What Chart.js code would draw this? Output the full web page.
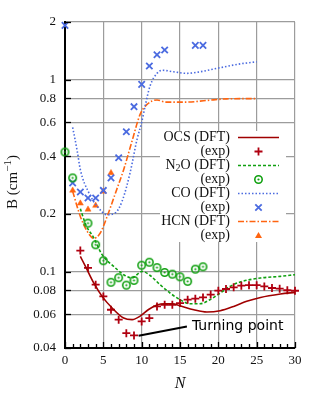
<!DOCTYPE html>
<html><head><meta charset="utf-8">
<script src="https://cdn.jsdelivr.net/npm/chart.js@4/dist/chart.umd.min.js"></script>
<style>html,body{margin:0;padding:0;background:#fff}canvas{display:block}</style>
</head><body>
<canvas id="c" width="320" height="400"></canvas>
<script>
// ---- data ----
const xTicks=[0,5,10,15,20,25,30];
const yTicks=[0.04,0.06,0.08,0.1,0.2,0.4,0.6,0.8,1,2];
const yTickLabels=['0.04','0.06','0.08','0.1','0.2','0.4','0.6','0.8','1','2'];

const ocsExpN=[2,3,4,5,6,7,8,9,10,11,12,13,14,15,16,17,18,19,20,21,22,23,24,25,26,27,28,29,30];
const ocsExpB=[0.1287,0.1045,0.0855,0.0743,0.0633,0.0562,0.0478,0.0465,0.055,0.0573,0.0659,0.0672,0.0672,0.0686,0.0714,0.0723,0.0734,0.0759,0.0796,0.0812,0.0828,0.0845,0.085,0.085,0.0837,0.0822,0.0815,0.080,0.0795];
const ocsDftN=[2,2.67,3.75,4.84,6.15,7.65,8.75,9.8,10.9,12,13,14,15,16.8,18.5,20.25,22,23.7,25.5,28.1,30];
const ocsDftB=[0.120,0.1065,0.0873,0.0743,0.0646,0.0573,0.0562,0.0586,0.0635,0.0670,0.0680,0.0680,0.0664,0.0633,0.0616,0.0626,0.0659,0.0700,0.0734,0.0765,0.078];

const n2oExpN=[0,1,3,4,5,6,7,8,9,10,11,12,13,14,15,16,17,18];
const n2oExpB=[0.42,0.308,0.179,0.138,0.114,0.088,0.093,0.085,0.090,0.108,0.112,0.105,0.099,0.097,0.094,0.089,0.103,0.106];
const n2oDftN=[2,2.7,3.75,4.84,6.35,7.66,8.75,10.05,11.1,12.4,13.7,15,16.3,17.6,18.9,20.25,21.5,22.85,25.5,28.1,30];
const n2oDftB=[0.213,0.176,0.150,0.1226,0.1065,0.0964,0.0927,0.1003,0.0955,0.0855,0.0774,0.0714,0.068,0.068,0.0714,0.0774,0.0837,0.0883,0.0927,0.0945,0.0964];

const coExpN=[0,1,2,3,4,5,6,7,8,9,10,11,12,13,17,18];
const coExpB=[1.92,0.29,0.26,0.242,0.242,0.265,0.308,0.392,0.536,0.724,0.946,1.18,1.35,1.43,1.51,1.51];
const coDftN=[1,1.6,2,3.1,4.2,5.5,6.6,7.45,8.5,9.4,10,10.5,11.1,12,12.7,14.2,15.9,17.6,20.25,22.85,25];
const coDftB=[0.565,0.424,0.34,0.258,0.219,0.198,0.203,0.233,0.329,0.49,0.6,0.744,0.93,1.08,1.12,1.10,1.08,1.10,1.156,1.21,1.24];

const hcnExpN=[1,2,3,4,5,6];
const hcnExpB=[0.265,0.227,0.211,0.221,0.262,0.327];
const hcnDftN=[1,2,2.9,3.75,4.6,5.5,6.6,7.65,8.75,9.8,10.7,12,13.1,14.2,15.9,18.5,21.1,25];
const hcnDftB=[0.262,0.194,0.162,0.149,0.159,0.194,0.258,0.340,0.48,0.66,0.744,0.785,0.765,0.765,0.765,0.78,0.795,0.798];

const turnN=[9.6,15.9];
const turnB=[0.0463,0.0518];
const turnLabel='Turning point';

const legendLabels=['OCS (DFT)','(exp)','N2O (DFT)','(exp)','CO (DFT)','(exp)','HCN (DFT)','(exp)'];

// ---- styles ----
const RED='#a00000', RED2='#b00010', GREEN='#10a010', BLUE='#4b6be0', ORANGE='#ff6410';
const SERIF='"Liberation Serif","Times New Roman",serif';

function pts(xs,ys){return xs.map((x,i)=>({x:x,y:ys[i]}));}

function makeCircleImg(){
  const c=document.createElement('canvas'); c.width=11; c.height=11;
  const g=c.getContext('2d');
  g.strokeStyle=GREEN; g.lineWidth=1.6;
  g.beginPath(); g.arc(5.5,5.5,3.7,0,Math.PI*2); g.stroke();
  g.fillStyle=GREEN; g.beginPath(); g.arc(5.5,5.5,1.1,0,Math.PI*2); g.fill();
  return c;
}
const circImg=makeCircleImg();

const lineDs=(lbl,xs,ys,col,dash)=>({label:lbl,data:pts(xs,ys),showLine:true,borderColor:col,borderWidth:1.6,
  borderDash:dash,pointRadius:0,pointHoverRadius:0,cubicInterpolationMode:'monotone',fill:false,clip:false});

const datasets=[
  lineDs('OCS (DFT)',ocsDftN,ocsDftB,RED,[]),
  {label:'OCS (exp)',data:pts(ocsExpN,ocsExpB),showLine:false,pointStyle:'cross',pointRadius:4,pointBorderWidth:1.8,pointBorderColor:RED2,clip:false},
  lineDs('N2O (DFT)',n2oDftN,n2oDftB,GREEN,[3,2]),
  {label:'N2O (exp)',data:pts(n2oExpN,n2oExpB),showLine:false,pointStyle:circImg,pointRadius:5,clip:false},
  lineDs('CO (DFT)',coDftN,coDftB,BLUE,[1.5,2]),
  {label:'CO (exp)',data:pts(coExpN,coExpB),showLine:false,pointStyle:'crossRot',pointRadius:4.5,pointBorderWidth:1.8,pointBorderColor:BLUE,clip:false},
  lineDs('HCN (DFT)',hcnDftN,hcnDftB,ORANGE,[6,2,1.5,2]),
  {label:'HCN (exp)',data:pts(hcnExpN,hcnExpB),showLine:false,pointStyle:'triangle',pointRadius:3.5,pointBorderWidth:0.5,pointBorderColor:ORANGE,pointBackgroundColor:ORANGE,clip:false},
  {label:'turn',data:pts(turnN,turnB),showLine:true,borderColor:'#000',borderWidth:2,pointRadius:0,clip:false}
];

function drawSample(ctx,i,x0,x1,y){
  const xm=(x0+x1)/2;
  ctx.save();
  if(i%2===0){
    const cols=[RED,GREEN,BLUE,ORANGE], dashes=[[],[3,2],[1.5,2],[6,2,1.5,2]];
    ctx.strokeStyle=cols[i/2]; ctx.lineWidth=1.6; ctx.setLineDash(dashes[i/2]);
    ctx.beginPath(); ctx.moveTo(x0,y); ctx.lineTo(x1,y); ctx.stroke();
  } else if(i===1){
    ctx.strokeStyle=RED2; ctx.lineWidth=1.8; ctx.beginPath();
    ctx.moveTo(xm-4,y); ctx.lineTo(xm+4,y); ctx.moveTo(xm,y-4); ctx.lineTo(xm,y+4); ctx.stroke();
  } else if(i===3){
    ctx.drawImage(circImg,xm-5.5,y-5.5);
  } else if(i===5){
    ctx.strokeStyle=BLUE; ctx.lineWidth=1.8; const r=3.2; ctx.beginPath();
    ctx.moveTo(xm-r,y-r); ctx.lineTo(xm+r,y+r); ctx.moveTo(xm-r,y+r); ctx.lineTo(xm+r,y-r); ctx.stroke();
  } else {
    ctx.fillStyle=ORANGE; ctx.beginPath();
    ctx.moveTo(xm,y-3.5); ctx.lineTo(xm+3.5,y+2.5); ctx.lineTo(xm-3.5,y+2.5); ctx.closePath(); ctx.fill();
  }
  ctx.restore();
}

const extras={
  id:'extras',
  beforeDatasetsDraw(chart){
    const ctx=chart.ctx; ctx.save(); ctx.fillStyle='#fff'; ctx.fillRect(160,131,126,111); ctx.restore();
  },
  afterDraw(chart){
    const ctx=chart.ctx, a=chart.chartArea, xs=chart.scales.x, ys=chart.scales.y;
    ctx.save();
    // inside tick marks
    ctx.strokeStyle='#000'; ctx.lineWidth=1.3;
    for(let n=0;n<=30;n++){
      const px=Math.round(xs.getPixelForValue(n))+0.5, L=(n%5===0)?6:4;
      ctx.beginPath(); ctx.moveTo(px,a.bottom); ctx.lineTo(px,a.bottom-L); ctx.stroke();
    }
    yTicks.forEach(v=>{
      const py=Math.round(ys.getPixelForValue(v))+0.5;
      ctx.beginPath(); ctx.moveTo(a.left,py); ctx.lineTo(a.left+6,py); ctx.stroke();
    });
    // y title
    ctx.fillStyle='#111'; ctx.textBaseline='middle';
    ctx.save(); ctx.translate(13,(a.top+a.bottom)/2-3); ctx.rotate(-Math.PI/2);
    ctx.font='15px '+SERIF;
    const p1='B (cm', p3=')';
    ctx.font='15px '+SERIF; const w1=ctx.measureText(p1).width, w3=ctx.measureText(p3).width;
    ctx.font='11px '+SERIF; const w2=ctx.measureText('\u22121').width;
    let sx=-(w1+w2+w3)/2;
    ctx.font='15px '+SERIF; ctx.textAlign='left'; ctx.fillText(p1,sx,0);
    ctx.font='11px '+SERIF; ctx.fillText('\u22121',sx+w1,-5);
    ctx.font='15px '+SERIF; ctx.fillText(p3,sx+w1+w2,0);
    ctx.restore();
    // x title
    ctx.font='italic 16px '+SERIF; ctx.textAlign='center'; ctx.fillText('N',(a.left+a.right)/2,384);
    // legend
    const tx=230, x0=238, x1=279;
    legendLabels.forEach((lbl,i)=>{
      const y=137.5+i*14;
      ctx.fillStyle='#111'; ctx.textAlign='right'; ctx.textBaseline='middle';
      if(lbl.indexOf('N2O')===0){
        ctx.font='14px '+SERIF; const rest='O (DFT)'; const wr=ctx.measureText(rest).width;
        ctx.fillText(rest,tx,y);
        ctx.font='10px '+SERIF; const ws=ctx.measureText('2').width; ctx.fillText('2',tx-wr,y+3);
        ctx.font='14px '+SERIF; ctx.fillText('N',tx-wr-ws,y);
      } else {
        ctx.font='14px '+SERIF; ctx.fillText(lbl,tx,y);
      }
      drawSample(ctx,i,x0,x1,y);
    });
    // annotation text
    ctx.fillStyle='#000'; ctx.textAlign='left'; ctx.textBaseline='middle';
    ctx.font='14px "DejaVu Sans",sans-serif';
    ctx.fillText(turnLabel, xs.getPixelForValue(turnN[1])+5, ys.getPixelForValue(turnB[1]));
    ctx.restore();
  }
};

new Chart(document.getElementById('c'),{
  type:'scatter',
  data:{datasets:datasets},
  options:{
    responsive:false, animation:false, devicePixelRatio:1,
    layout:{padding:{left:0,top:22,right:25,bottom:0}},
    plugins:{legend:{display:false},tooltip:{enabled:false}},
    scales:{
      x:{type:'linear',min:0,max:30,
        afterBuildTicks(s){s.ticks=xTicks.map(v=>({value:v}));},
        ticks:{font:{family:SERIF,size:13},color:'#111',padding:5,maxRotation:0,autoSkip:false},
        grid:{color:'#9c9c9c',lineWidth:1.2,drawTicks:false},
        border:{color:'#000',width:2},
        afterFit(s){s.height=52;}
      },
      y:{type:'logarithmic',min:0.04,max:2,
        afterBuildTicks(s){s.ticks=yTicks.map(v=>({value:v}));},
        ticks:{font:{family:SERIF,size:13},color:'#111',padding:9,autoSkip:false,
          callback:(v)=>yTickLabels[yTicks.indexOf(v)]},
        grid:{color:'#9c9c9c',lineWidth:1.2,drawTicks:false},
        border:{color:'#000',width:2},
        afterFit(s){s.width=65;}
      }
    }
  },
  plugins:[extras]
});
</script>
</body></html>
